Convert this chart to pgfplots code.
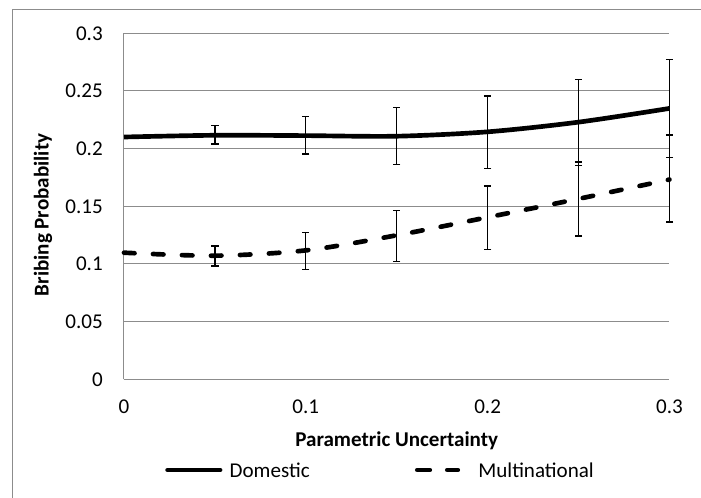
\documentclass[border=0pt]{standalone}
\usepackage{fontspec}
\setmainfont{Carlito}
\usepackage{pgfplots}
\usepackage{pgfplotstable}
\pgfplotsset{compat=1.18}
\definecolor{gridgray}{RGB}{140,140,140}
\definecolor{bordergray}{RGB}{140,140,140}

\pgfplotsset{
  domleg/.style={legend image code/.code={\path (0pt,0pt); \draw[##1,line cap=round] (1.7pt,0pt) -- (41.06pt,0pt); \path (46.5pt,0pt);}},
  multleg/.style={legend image code/.code={\path (0pt,0pt); \draw[##1,solid,line cap=round] (1.69pt,0pt) -- (11.06pt,0pt); \draw[##1,solid,line cap=round] (24.19pt,0pt) -- (32.06pt,0pt); \path (45.75pt,0pt);}},
  errstyle/.style={draw=none, mark=none, forget plot,
    error bars/.cd, y dir=both, y explicit,
    error bar style={draw=black, solid, line width=1pt},
    error mark options={draw=black, solid, line width=1pt, mark size=2.75pt, rotate=90}},
}

\pgfplotstableread{
x y
0 0.2101
0.05 0.2116
0.1 0.2113
0.15 0.2108
0.2 0.2146
0.25 0.2230
0.3 0.2349
}\domestic
\pgfplotstableread{
x y ep em
0.05 0.2116 0.0084 0.0076
0.1 0.2113 0.0167 0.0159
0.15 0.2108 0.0246 0.0243
0.2 0.2146 0.0310 0.0319
0.25 0.2230 0.0370 0.0374
0.3 0.2349 0.0425 0.0426
}\domesticerr
\pgfplotstableread{
x y
0 0.1098
0.05 0.1072
0.1 0.1118
0.15 0.1249
0.2 0.1405
0.25 0.1565
0.3 0.1732
}\multi
\pgfplotstableread{
x y ep em
0.05 0.1072 0.0084 0.0089
0.1 0.1118 0.0156 0.0164
0.15 0.1249 0.0216 0.0227
0.2 0.1405 0.0272 0.0277
0.25 0.1565 0.0320 0.0321
0.3 0.1732 0.0385 0.0367
}\multierr

\begin{document}
\begin{tikzpicture}
\useasboundingbox (-93pt,-89pt) rectangle (432.75pt,284.5pt);
\begin{axis}[
  at={(0pt,0pt)}, anchor=south west,
  scale only axis, width=409.1pt, height=259.5pt,
  xmin=0, xmax=0.3, ymin=0, ymax=0.3,
  clip=false,
  axis x line*=bottom, axis y line*=left,
  axis line style={-, draw=gridgray, line width=0.75pt},
  major tick length=0pt,
  xtick={0,0.1,0.2,0.3},
  xticklabels={0,0.1,0.2,0.3},
  ytick={0,0.05,0.1,0.15,0.2,0.25,0.3},
  yticklabels={0,0.05,0.1,0.15,0.2,0.25,0.3},
  ymajorgrids,
  grid style={draw=gridgray, line width=0.75pt},
  tick label style={font=\fontsize{15.8}{19}\selectfont},
  xticklabel style={anchor=north, inner sep=0pt, yshift=-15.5pt},
  yticklabel style={anchor=east, inner sep=0pt, xshift=-15.75pt},
  xlabel={Parametric Uncertainty},
  ylabel={Bribing Probability},
  label style={font=\bfseries\fontsize{15.8}{19}\selectfont, inner sep=0pt},
  xlabel style={at={(axis description cs:0.5,-0.1928)}, anchor=base},
  ylabel style={at={(axis description cs:-0.1384,0.475)}, anchor=base},
  legend columns=2,
  legend cell align=left,
  legend style={at={(axis description cs:0.0715,-0.2621)}, anchor=west,
    draw=none, fill=none, inner sep=0pt, outer sep=0pt,
    font=\fontsize{15.8}{19}\selectfont,
    nodes={inner sep=0pt, text depth=0pt},
    /tikz/every even column/.append style={column sep=77.25pt}},
]
\addplot[black, line width=3.5pt, smooth, mark=none, domleg]
  table[x=x, y=y] {\domestic};
\addlegendentry{Domestic}
\addplot[errstyle]
  table[x=x, y=y, y error plus=ep, y error minus=em] {\domesticerr};
\addplot[black, line width=3.5pt, smooth, mark=none, line cap=round,
  dash pattern=on 7.9pt off 13.85pt, multleg]
  table[x=x, y=y] {\multi};
\addlegendentry{Multinational}
\addplot[errstyle]
  table[x=x, y=y, y error plus=ep, y error minus=em] {\multierr};
\end{axis}
\draw[bordergray, line width=0.75pt] (-83.25pt,-120pt) -- (-83.25pt,277.35pt) -- (480pt,277.35pt);
\end{tikzpicture}
\end{document}
